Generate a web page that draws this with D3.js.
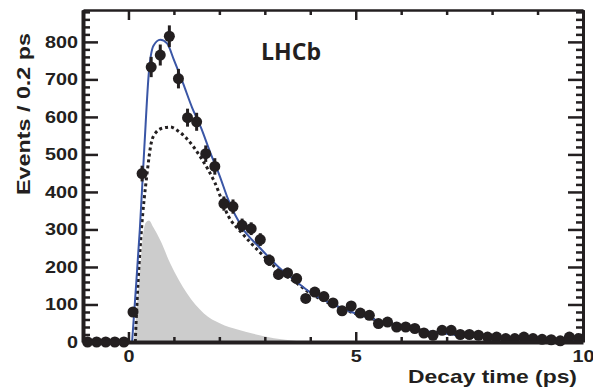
<!DOCTYPE html>
<html>
<head>
  <meta charset="utf-8" />
  <script src="https://d3js.org/d3.v7.min.js"></script>
</head>
<style>
body { margin: 0; background: #fff; }
text { font-family: 'Liberation Sans', Arial, sans-serif; font-weight: bold; fill: #231f20; }
</style>
<body>
<div id="viz"></div>
<script>
'use strict';

// bin centres (ps), 0.2 ps wide
const binT = [-0.9, -0.7, -0.5, -0.3, -0.1,
  0.1, 0.3, 0.5, 0.7, 0.9, 1.1, 1.3, 1.5, 1.7, 1.9,
  2.1, 2.3, 2.5, 2.7, 2.9, 3.1, 3.3, 3.5, 3.7, 3.9,
  4.1, 4.3, 4.5, 4.7, 4.9, 5.1, 5.3, 5.5, 5.7, 5.9,
  6.1, 6.3, 6.5, 6.7, 6.9, 7.1, 7.3, 7.5, 7.7, 7.9,
  8.1, 8.3, 8.5, 8.7, 8.9, 9.1, 9.3, 9.5, 9.7, 9.9];
const counts = [0, 0, 0, 0, 0,
  80, 449, 733, 765, 815, 702, 598, 587, 502, 468,
  369, 361, 311, 302, 273, 218, 180, 184, 169, 116,
  133, 121, 104, 83, 96, 77, 71, 49, 53, 40,
  40, 36, 24, 18, 31, 31, 20, 20, 18, 13,
  13, 9, 9, 13, 9, 7, 6, 3, 13, 9];
const errs = [0, 0, 0, 0, 0,
  9, 21, 27, 28, 29, 26, 24, 24, 22, 22,
  19, 19, 18, 17, 17, 15, 13, 14, 13, 11,
  12, 11, 10, 9, 10, 9, 8, 7, 7, 6,
  6, 6, 5, 4, 6, 6, 4, 4, 4, 4,
  4, 3, 3, 4, 3, 3, 2, 2, 4, 3];

// total fit (blue)
const fitT = [0.08, 0.15, 0.25, 0.35, 0.45, 0.55, 0.7, 0.85, 1.0, 1.2, 1.4, 1.6, 1.8, 2.0, 2.2, 2.5,
  2.9, 3.3, 3.7, 4.0, 4.5, 5.0, 5.5, 6.0, 6.5, 7.0, 7.5, 8.0, 8.5, 9.0, 9.5, 10];
const fitV = [0, 120, 300, 520, 720, 790, 806, 796, 752, 690, 625, 570, 505, 445, 378, 305,
  250, 200, 160, 132, 100, 76, 57, 42, 30, 22, 16, 11, 8, 6, 4, 3];

// signal component (dotted)
const sigT = [0.15, 0.19, 0.28, 0.41, 0.5, 0.6, 0.75, 0.92, 1.1, 1.3, 1.6, 1.9, 2.2, 2.5,
  2.9, 3.3, 3.7, 4.0, 4.5, 5.0, 5.5, 6.0, 6.5, 7.0, 7.5, 8.0, 8.5, 9.0, 9.5, 10];
const sigV = [0, 110, 290, 450, 530, 558, 570, 573, 562, 540, 490, 425, 335, 290,
  238, 192, 157, 130, 99, 75, 57, 42, 30, 22, 16, 11, 8, 6, 4, 3];

// background component (grey)
const bkgT = [0.12, 0.19, 0.26, 0.32, 0.38, 0.45, 0.55, 0.7, 0.92, 1.29, 1.66, 2.02, 2.4, 2.75, 3.2, 3.7, 4.2];
const bkgV = [0, 100, 200, 285, 318, 324, 305, 271, 209, 129, 76, 49, 33, 22, 10, 3, 0];

const ink = '#231f20';
const W = 593, H = 391;
const m = {top: 10, right: 10, bottom: 49, left: 83};

const svg = d3.select('#viz').append('svg')
  .attr('width', W).attr('height', H);

const x = d3.scaleLinear().domain([-1, 10]).range([m.left, W - m.right]);
const y = d3.scaleLinear().domain([0, 885]).range([H - m.bottom, m.top]);

const pts = (ts, vs) => ts.map((t, i) => [t, vs[i]]);

// grey background area
svg.append('path')
  .datum(pts(bkgT, bkgV))
  .attr('fill', '#cccccc')
  .attr('d', d3.area().x(d => x(d[0])).y0(y(0)).y1(d => y(d[1])).curve(d3.curveMonotoneX));

const line = d3.line().x(d => x(d[0])).y(d => y(d[1])).curve(d3.curveMonotoneX);

svg.append('path')
  .datum(pts(sigT, sigV))
  .attr('fill', 'none').attr('stroke', ink)
  .attr('stroke-width', 3).attr('stroke-dasharray', '3,3')
  .attr('d', line);

svg.append('path')
  .datum(pts(fitT, fitV))
  .attr('fill', 'none').attr('stroke', '#3a56a6')
  .attr('stroke-width', 2)
  .attr('d', line);

// data
const data = binT.map((t, i) => ({t: t, n: counts[i], e: errs[i]}));
svg.append('g').selectAll('line').data(data).join('line')
  .attr('x1', d => x(d.t)).attr('x2', d => x(d.t))
  .attr('y1', d => y(d.n - d.e)).attr('y2', d => y(d.n + d.e))
  .attr('stroke', ink).attr('stroke-width', 3);
svg.append('g').selectAll('circle').data(data).join('circle')
  .attr('cx', d => x(d.t)).attr('cy', d => y(d.n))
  .attr('r', 5.5).attr('fill', ink);

// axes
const yMajor = d3.range(0, 801, 100);
const yMinor = d3.range(20, 881, 20).filter(v => v % 100 !== 0);
const xMajor = [0, 5, 10];
const xMinor = [-1, 1, 2, 3, 4, 6, 7, 8, 9];

function style(g, w) {
  g.attr('font-size', null).attr('font-family', null);
  g.select('.domain').attr('stroke', ink).attr('stroke-width', w);
  g.selectAll('.tick line').attr('stroke', ink).attr('stroke-width', 2.5);
  g.selectAll('.tick text').attr('fill', ink).attr('font-size', 17)
    .attr('textLength', d => 11 * String(d).length)
    .attr('lengthAdjust', 'spacingAndGlyphs');
}

const x0 = m.left, x1 = W - m.right, y0 = H - m.bottom, y1 = m.top;

// minor ticks first
svg.append('g').attr('transform', `translate(${x0},0)`)
  .call(d3.axisLeft(y).tickValues(yMinor).tickSizeInner(-7).tickSizeOuter(0).tickFormat(''))
  .call(g => style(g, 0));
svg.append('g').attr('transform', `translate(${x1},0)`)
  .call(d3.axisRight(y).tickValues(yMinor).tickSizeInner(-7).tickSizeOuter(0).tickFormat(''))
  .call(g => style(g, 0));
svg.append('g').attr('transform', `translate(0,${y0})`)
  .call(d3.axisBottom(x).tickValues(xMinor).tickSizeInner(-5).tickSizeOuter(0).tickFormat(''))
  .call(g => style(g, 0));
svg.append('g').attr('transform', `translate(0,${y1})`)
  .call(d3.axisTop(x).tickValues(xMinor).tickSizeInner(-5).tickSizeOuter(0).tickFormat(''))
  .call(g => style(g, 0));

// frame (top and right thinner)
svg.append('g').attr('transform', `translate(0,${y1})`)
  .call(d3.axisTop(x).tickValues(xMajor).tickSizeInner(-10).tickSizeOuter(0).tickFormat(''))
  .call(g => style(g, 2.5));
svg.append('g').attr('transform', `translate(${x1},0)`)
  .call(d3.axisRight(y).tickValues(yMajor).tickSizeInner(-15).tickSizeOuter(0).tickFormat(''))
  .call(g => style(g, 3));
svg.append('g').attr('transform', `translate(${x0},0)`)
  .call(d3.axisLeft(y).tickValues(yMajor).tickSizeInner(-15).tickSizeOuter(0).tickPadding(5))
  .call(g => style(g, 4));
svg.append('g').attr('transform', `translate(0,${y0})`)
  .call(d3.axisBottom(x).tickValues(xMajor).tickSizeInner(-10).tickSizeOuter(0).tickPadding(8))
  .call(g => style(g, 4));

// titles
svg.append('text')
  .attr('x', 577).attr('y', 383)
  .attr('text-anchor', 'end').attr('font-size', 19)
  .attr('textLength', 169).attr('lengthAdjust', 'spacingAndGlyphs')
  .text('Decay time (ps)');

svg.append('text')
  .attr('transform', 'translate(30,114) rotate(-90)')
  .attr('text-anchor', 'middle').attr('font-size', 19)
  .attr('textLength', 162).attr('lengthAdjust', 'spacingAndGlyphs')
  .text('Events / 0.2 ps');

svg.append('text')
  .attr('x', 261).attr('y', 60)
  .style('font-family', "'Open Sans', sans-serif")
  .attr('font-size', 23)
  .attr('textLength', 60).attr('lengthAdjust', 'spacingAndGlyphs')
  .text('LHCb');
</script>
</body>
</html>
